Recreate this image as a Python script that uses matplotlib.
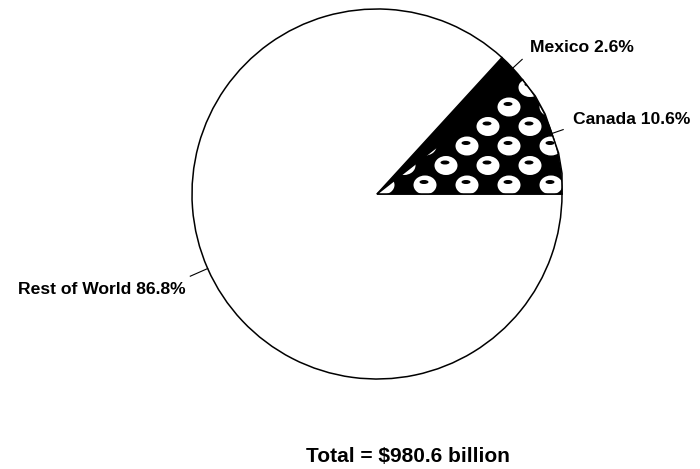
import numpy as np
import matplotlib
matplotlib.use("Agg")
import matplotlib.pyplot as plt
from matplotlib.patches import Ellipse

plt.rcParams['font.family'] = ['Liberation Sans', 'DejaVu Sans']

# share of total, counter-clockwise from 3 o'clock
labels = ['Canada', 'Mexico', 'Rest of World']
shares = [10.6, 2.6, 86.8]
total = 980.6

W, H = 700, 469
fig = plt.figure(figsize=(W / 100, H / 100), dpi=100)
ax = fig.add_axes([0, 0, 1, 1])

cx, cy, r = 377, H - 194, 185
wedges, _ = ax.pie(shares, center=(cx, cy), radius=r, startangle=0,
                   counterclock=True, colors=['black', 'black', 'white'],
                   wedgeprops=dict(edgecolor='black', linewidth=1.1),
                   frame=True)
ax.set_xlim(0, W)
ax.set_ylim(0, H)
ax.set_aspect('equal')
ax.axis('off')

# dotted texture on the Canada slice
canada = wedges[0]
for i in range(0, 12):
    for j in range(-8, 6):
        x = 425 + 42 * j + 21 * i
        y = (H - 185) + 19.5 * i
        dot = Ellipse((x, y), 23, 19, facecolor='white', edgecolor='none', zorder=3)
        ax.add_patch(dot)
        dot.set_clip_path(canada)
        blot = Ellipse((x - 1, y + 3), 9, 4, facecolor='black', edgecolor='none', zorder=4)
        ax.add_patch(blot)
        blot.set_clip_path(canada)

# redraw outline on top of texture
ax.add_patch(plt.Polygon(canada.get_path().vertices, closed=True, fill=False,
                         edgecolor='black', linewidth=1.1, zorder=5,
                         transform=canada.get_transform()))

# leader lines and labels
offsets = {'Canada': (10, 10, 'left'), 'Mexico': (8, 12, 'left'),
           'Rest of World': (-5, -13, 'right')}
lead = {'Canada': 12, 'Mexico': 13, 'Rest of World': 19}
for w, lab, s in zip(wedges, labels, shares):
    ang = np.deg2rad((w.theta1 + w.theta2) / 2)
    x0, y0 = cx + r * np.cos(ang), cy + r * np.sin(ang)
    x1 = cx + (r + lead[lab]) * np.cos(ang)
    y1 = cy + (r + lead[lab]) * np.sin(ang)
    ax.plot([x0, x1], [y0, y1], color='black', lw=0.8, zorder=6)
    dx, dy, ha = offsets[lab]
    ax.text(x1 + dx, y1 + dy, f'{lab} {s}%', ha=ha, va='center',
            fontsize=12.6, fontweight='bold')

ax.text(408, H - 456, f'Total = ${total} billion', ha='center', va='center',
        fontsize=15, fontweight='bold')

fig.savefig('out.png', dpi=100, facecolor='white')
